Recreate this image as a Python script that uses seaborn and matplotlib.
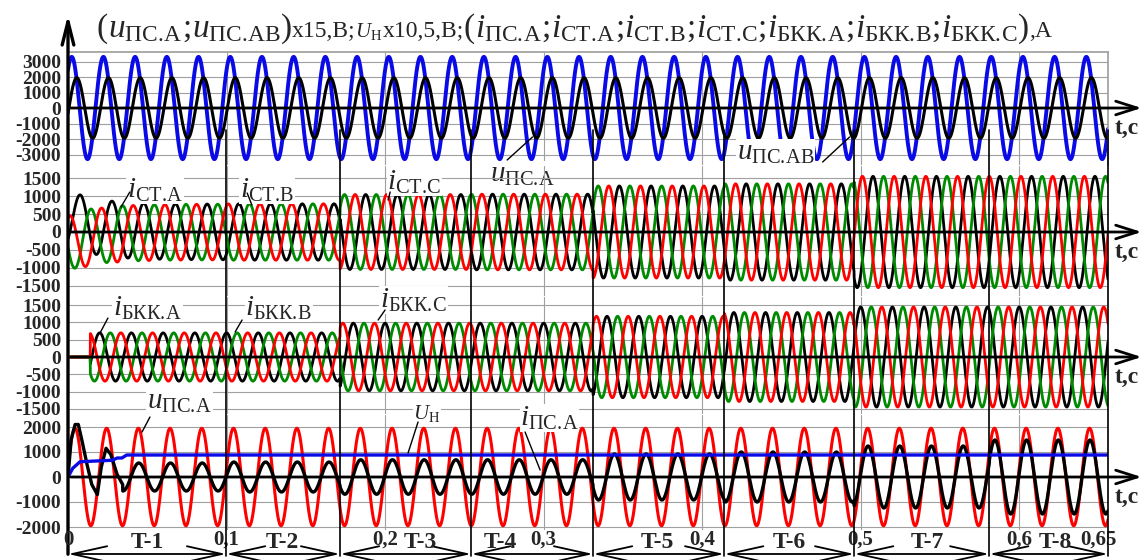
import numpy as np
import matplotlib
matplotlib.use("Agg")
import matplotlib.pyplot as plt
import matplotlib.transforms as mtransforms
import seaborn as sns

# -------------------------------------------------------
# DATA
# -------------------------------------------------------

FREQ = 50.0           # Hz
T_END = 0.656         # s, right edge of the traces

# switching instants (boundaries of the intervals T-1 ... T-8)
seg_edges = [0.0, 0.0997, 0.1716, 0.2543, 0.3312, 0.4139, 0.4959, 0.5811, 0.656]
seg_names = ["T-1", "T-2", "T-3", "T-4", "T-5", "T-6", "T-7", "T-8"]
seg_label_t = [0.050, 0.135, 0.222, 0.273, 0.372, 0.455, 0.542, 0.623]

time_ticks = [0.0, 0.1, 0.2, 0.3, 0.4, 0.5, 0.6, 0.65]
time_tick_labels = ["0", "0,1", "0,2", "0,3", "0,4", "0,5", "0,6", "0,65"]

# panel 1 : supply voltages (x15)
u_ps_a_amp = 1950
u_ps_a_phase = -10
u_ps_ab_amp = 3300
u_ps_ab_phase = 48

# panel 2 : i_CT (phase A black, B green, C red), amplitude per interval
st_amp = [780, 790, 1050, 1060, 1290, 1350, 1560, 1560]
st_phase = [-50, -170, 70]
st_dc0 = [400, -300, -350]   # decaying offset at start
st_tau = 0.018

# panel 3 : i_BKK (phase A black, B green, C red)
bkk_amp = [700, 700, 980, 980, 1180, 1290, 1450, 1450]
bkk_phase = [90, -30, -150]
bkk_start = 0.014

# panel 4 : u_PS.A (red), i_PS.A (black), U_n (blue)
u4_amp = 1950
u4_phase = 11
i_ps_amp = [560, 600, 690, 690, 920, 1000, 1240, 1480]
i_ps_phase = 6
i_ps_start_t = [0.0, 0.002, 0.0045, 0.0065, 0.009, 0.012, 0.015, 0.0185,
                0.021, 0.024, 0.027, 0.031, 0.0345]
i_ps_start_v = [0, 1500, 2100, 2100, 1400, 500, -300, -700,
                400, 1150, 900, 100, -300]
un_t = [0.0, 0.003, 0.0076, 0.028, 0.031, 0.034, 0.037, T_END]
un_v = [0, 350, 610, 670, 760, 760, 880, 880]

# -------------------------------------------------------
# WAVEFORMS
# -------------------------------------------------------

t = np.linspace(0, T_END, 6000)
w = 2 * np.pi * FREQ
seg_idx = np.clip(np.searchsorted(seg_edges, t, side="right") - 1, 0, 7)


def wave(amps, phase_deg):
    return np.asarray(amps, dtype=float)[seg_idx] * np.sin(w * t + np.deg2rad(phase_deg))


# -------------------------------------------------------
# FIGURE
# -------------------------------------------------------

sns.set_theme(style="white")
plt.rcParams["font.family"] = ["Liberation Serif", "DejaVu Serif"]
plt.rcParams["mathtext.fontset"] = "custom"
plt.rcParams["mathtext.rm"] = "Liberation Serif"
plt.rcParams["mathtext.it"] = "Liberation Serif:italic"
plt.rcParams["mathtext.bf"] = "Liberation Serif:bold"

W, H = 1146, 560
fig = plt.figure(figsize=(W / 100, H / 100), dpi=100)
fig.patch.set_facecolor("white")

X0, X1 = 68, 1108
# (top px, bottom px, ylim, ticks)
panels = [
    (52, 165, (-3677, 3613), np.arange(-3000, 3001, 1000)),
    (166, 296, (-1793, 1849), np.arange(-1500, 1501, 500)),
    (297, 414, (-1652, 1739), np.arange(-1500, 1501, 500)),
    (415, 530, (-2120, 2480), np.arange(-2000, 2001, 1000)),
]

axes = []
for top, bot, ylim, ticks in panels:
    ax = fig.add_axes([X0 / W, 1 - bot / H, (X1 - X0) / W, (bot - top) / H])
    ax.set_xlim(0, T_END)
    ax.set_ylim(*ylim)
    ax.set_yticks(ticks)
    ax.set_yticklabels([str(v) for v in ticks], fontsize=14, fontweight="bold")
    ax.set_xticks(np.arange(0.1, 0.65, 0.1))
    ax.set_xticklabels([])
    ax.tick_params(length=0, pad=5)
    ax.grid(True, color="#a0a0a0", linewidth=0.8)
    for s in ax.spines.values():
        s.set_visible(False)
    ax.patch.set_alpha(0)
    axes.append(ax)
ax1, ax2, ax3, ax4 = axes
ax1.spines["top"].set_visible(True)
ax1.spines["top"].set_color("#a0a0a0")
ax1.spines["right"].set_visible(True)
ax1.spines["right"].set_color("#a0a0a0")

# panel 1
sns.lineplot(x=t, y=wave([u_ps_ab_amp] * 8, u_ps_ab_phase), ax=ax1, color="#0a0ae6",
             linewidth=2.8, estimator=None, sort=False)
sns.lineplot(x=t, y=wave([u_ps_a_amp] * 8, u_ps_a_phase), ax=ax1, color="black",
             linewidth=2.2, estimator=None, sort=False)

# panel 2
colors3 = ["black", "#008a00", "#ff0000"]
for ph, dc, c in zip(st_phase, st_dc0, colors3):
    y = wave(st_amp, ph) + dc * np.exp(-t / st_tau)
    sns.lineplot(x=t, y=y, ax=ax2, color=c, linewidth=2.0, estimator=None, sort=False)

# panel 3
on = (t >= bkk_start).astype(float)
for ph, c in zip(bkk_phase, colors3):
    sns.lineplot(x=t, y=wave(bkk_amp, ph) * on, ax=ax3, color=c, linewidth=2.0,
                 estimator=None, sort=False)

# panel 4
sns.lineplot(x=t, y=wave([u4_amp] * 8, u4_phase), ax=ax4, color="#ff0000",
             linewidth=2.2, estimator=None, sort=False)
i_ps = wave(i_ps_amp, i_ps_phase)
keep = t > i_ps_start_t[-1]
t_i = np.concatenate([i_ps_start_t, t[keep]])
v_i = np.concatenate([i_ps_start_v, i_ps[keep]])
sns.lineplot(x=t_i, y=v_i, ax=ax4, color="black", linewidth=2.4, estimator=None, sort=False)
sns.lineplot(x=un_t, y=un_v, ax=ax4, color="#0a0ae6", linewidth=2.4, estimator=None, sort=False)

# zero axes with arrows and "t,c"
for ax, (top, bot, ylim, ticks) in zip(axes, panels):
    ax.annotate("", xy=(0.679, 0), xytext=(0, 0), xycoords="data",
                arrowprops=dict(arrowstyle="->,head_length=1.1,head_width=0.35",
                                lw=2.0, color="black", mutation_scale=14),
                annotation_clip=False, zorder=6)
    scale = (bot - top) / (ylim[1] - ylim[0])  # px per unit
    ax.text(0.668, -20 / scale, "t,c", fontsize=17, fontweight="bold",
            ha="center", va="center", clip_on=False)

# -------------------------------------------------------
# INTERVAL MARKS
# -------------------------------------------------------

blend = mtransforms.blended_transform_factory(ax4.transData, fig.transFigure)


def fy(px):
    return 1 - px / H


for e in seg_edges[1:]:
    ax4.plot([e, e], [fy(130), fy(556)], transform=blend, color="black", lw=1.2,
             clip_on=False, zorder=7)

# vertical axis with arrow
ax4.annotate("", xy=(0, fy(12)), xytext=(0, fy(557)), xycoords=blend, textcoords=blend,
             arrowprops=dict(arrowstyle="->,head_length=1.2,head_width=0.3",
                             lw=2.4, color="black", mutation_scale=14),
             annotation_clip=False)

for a, b in zip(seg_edges[:-1], seg_edges[1:]):
    ax4.annotate("", xy=(b, fy(554)), xytext=(a, fy(554)), xycoords=blend, textcoords=blend,
                 arrowprops=dict(arrowstyle="<->,head_length=1.8,head_width=0.4",
                                 lw=1.3, color="black", mutation_scale=14,
                                 shrinkA=0, shrinkB=0),
                 annotation_clip=False)

for tt, lab in zip(seg_label_t, seg_names):
    ax4.text(tt, fy(543), lab, transform=blend, fontsize=17, fontweight="bold",
             ha="center", va="center")
for tt, lab in zip(time_ticks, time_tick_labels):
    ax4.text(tt, fy(540), lab, transform=blend, fontsize=15, fontweight="bold",
             ha="center", va="center")

# -------------------------------------------------------
# CURVE LABELS
# -------------------------------------------------------

box = dict(facecolor="white", edgecolor="none", pad=0.5)


def label(ax, xy_text, text, line_from, line_to, size=21):
    ax.text(xy_text[0], xy_text[1], text, fontsize=size, ha="left", va="center",
            bbox=box, clip_on=False, zorder=8)
    ax.plot([line_from[0], line_to[0]], [line_from[1], line_to[1]], color="black",
            lw=1.0, clip_on=False, zorder=9)


label(ax2, (0.0372, 1176), r"$i_{\mathrm{СТ.\!А}}$", (0.039, 1120), (0.0334, 700))
label(ax2, (0.1085, 1176), r"$i_{\mathrm{СТ.\!В}}$", (0.113, 1092), (0.116, 756))
label(ax2, (0.2013, 1400), r"$i_{\mathrm{СТ.\!С}}$", (0.2032, 1120), (0.2019, 896))
label(ax1, (0.266, -4323), r"$u_{\mathrm{ПС.\!А}}$", (0.277, -3355), (0.293, -1871))
label(ax1, (0.422, -2903), r"$u_{\mathrm{ПС.\!АВ}}$", (0.476, -3484), (0.493, -1871))
label(ax3, (0.0284, 1420), r"$i_{\mathrm{БКК.\!А}}$", (0.0252, 1130), (0.0202, 696))
label(ax3, (0.1117, 1420), r"$i_{\mathrm{БКК.\!В}}$", (0.1098, 1072), (0.1054, 725))
label(ax3, (0.1968, 1652), r"$i_{\mathrm{БКК.\!С}}$", (0.2, 1362), (0.1956, 1072))
label(ax4, (0.0498, 3000), r"$u_{\mathrm{ПС.\!А}}$", (0.0517, 2400), (0.0467, 1800))
label(ax4, (0.2177, 2560), r"$U_{\mathrm{Н}}$", (0.2208, 2200), (0.2145, 960), size=15)
label(ax4, (0.2852, 2360), r"$i_{\mathrm{ПС.\!А}}$", (0.2883, 1800), (0.2978, 280))

# -------------------------------------------------------
# TITLE (pieces of different size drawn one after another)
# -------------------------------------------------------

title_pieces = [
    ("(", 24), (r"$u_{\mathrm{ПС.\!А}}$", 24), (";", 24), (r"$u_{\mathrm{ПС.\!АВ}}$", 24),
    (")", 24), ("x15,В;", 17), (r"$U_{\mathrm{Н}}$", 15), ("x10,5,В;", 17),
    ("(", 24), (r"$i_{\mathrm{ПС.\!А}}$", 24), (";", 24), (r"$i_{\mathrm{СТ.\!А}}$", 24),
    (";", 24), (r"$i_{\mathrm{СТ.\!В}}$", 24), (";", 24), (r"$i_{\mathrm{СТ.\!С}}$", 24),
    (";", 24), (r"$i_{\mathrm{БКК.\!А}}$", 24), (";", 24), (r"$i_{\mathrm{БКК.\!В}}$", 24),
    (";", 24), (r"$i_{\mathrm{БКК.\!С}}$", 24), (")", 24), (",А", 17),
]

renderer = fig.canvas.get_renderer()
x_px = 97
for s, size in title_pieces:
    txt = fig.text(x_px / W, fy(37), s, fontsize=size, ha="left", va="baseline")
    x_px += txt.get_window_extent(renderer).width

fig.savefig("out.png", dpi=100)
print("title ends at", x_px)
